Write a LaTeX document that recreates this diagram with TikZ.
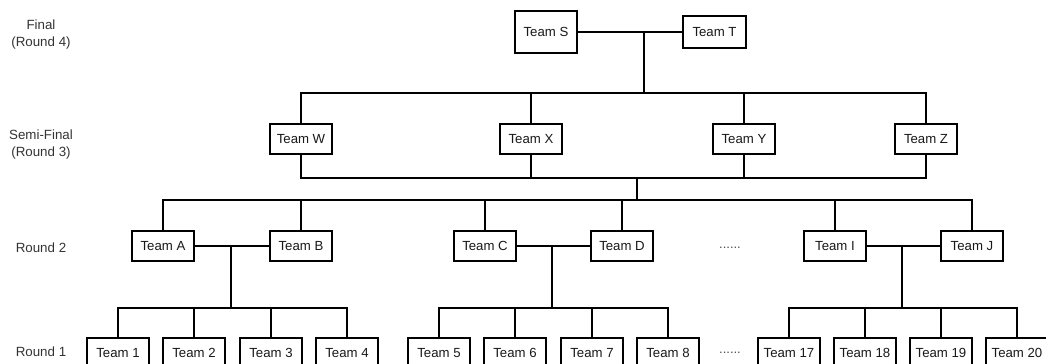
\documentclass[tikz,border=0pt]{standalone}
\usepackage{fontspec}
\setmainfont{Liberation Sans}
\begin{document}
\begin{tikzpicture}
        [x=0.75pt, y=-0.75pt,
         team_style/.style={rectangle,draw=black,line width=1.4pt,fill=white,
           minimum width=46.5pt,minimum height=22.5pt,inner sep=0pt,
           font=\fontsize{9.9pt}{12pt}\selectfont,text=black!90},
         round_style/.style={align=center,font=\fontsize{10pt}{12.75pt}\selectfont,text=black!80},
         dots_style/.style={font=\fontsize{9.75pt}{12pt}\selectfont,text=black!70},
         edge_style/.style={draw=black,line width=1.4pt}]
            \useasboundingbox (0,0) rectangle (1046,364);
            % round labels
            \node[round_style] (r4) at (41,35)  {Final\\(Round 4)};
            \node[round_style] (r3) at (41,145) {Semi-Final\\(Round 3)};
            \node[round_style] (r2) at (41,248) {Round 2};
            \node[round_style] (r1) at (41,352) {Round 1};
            % final
            \node[team_style,minimum height=31.5pt] (tS) at (546,32) {Team S};
            \node[team_style,minimum width=47.25pt,minimum height=24pt] (tT) at (714.5,32) {Team T};
            % semi-final
            \node[team_style] (tW) at (301,139) {Team W};
            \node[team_style] (tX) at (531,139) {Team X};
            \node[team_style] (tY) at (744,139) {Team Y};
            \node[team_style] (tZ) at (926,139) {Team Z};
            % round 2
            \node[team_style] (tA) at (163,246) {Team A};
            \node[team_style] (tB) at (301,246) {Team B};
            \node[team_style] (tC) at (485,246) {Team C};
            \node[team_style] (tD) at (622,246) {Team D};
            \node[dots_style] (d2) at (730,248) {......};
            \node[team_style] (tI) at (835,246) {Team I};
            \node[team_style] (tJ) at (972,246) {Team J};
            % round 1
            \node[team_style] (t1) at (118,353)   {Team 1};
            \node[team_style] (t2) at (194,353)   {Team 2};
            \node[team_style] (t3) at (271,353)   {Team 3};
            \node[team_style] (t4) at (347,353)   {Team 4};
            \node[team_style] (t5) at (439,353)   {Team 5};
            \node[team_style] (t6) at (515,353)   {Team 6};
            \node[team_style] (t7) at (592,353)   {Team 7};
            \node[team_style] (t8) at (668,353)   {Team 8};
            \node[dots_style] (d1) at (730,353)   {......};
            \node[team_style] (t17) at (789,353)  {Team 17};
            \node[team_style] (t18) at (865,353)  {Team 18};
            \node[team_style] (t19) at (941,353)  {Team 19};
            \node[team_style] (t20) at (1017,353) {Team 20};
            % junctions
            \coordinate (jST) at (644,32);
            \coordinate (jST_b) at (644,93);
            \coordinate (jSemi) at (637,178);
            \coordinate (jSemi_b) at (637,200);
            \coordinate (jAB) at (231,246);
            \coordinate (jAB_b) at (231,308);
            \coordinate (jCD) at (552,246);
            \coordinate (jCD_b) at (552,308);
            \coordinate (jIJ) at (902,246);
            \coordinate (jIJ_b) at (902,308);
            % final to semi-final
            \draw[edge_style] (tS) -- (tT);
            \draw[edge_style] (jST) -- (jST_b);
            \draw[edge_style] (tW.north) -- (tW.north |- jST_b) -- (tZ.north |- jST_b) -- (tZ.north);
            \draw[edge_style] (tX.north) -- (tX.north |- jST_b);
            \draw[edge_style] (tY.north) -- (tY.north |- jST_b);
            % semi-final to round 2
            \draw[edge_style] (tW.south) -- (tW.south |- jSemi) -- (tZ.south |- jSemi) -- (tZ.south);
            \draw[edge_style] (tX.south) -- (tX.south |- jSemi);
            \draw[edge_style] (tY.south) -- (tY.south |- jSemi);
            \draw[edge_style] (jSemi) -- (jSemi_b);
            \draw[edge_style] (tA.north) -- (tA.north |- jSemi_b) -- (tJ.north |- jSemi_b) -- (tJ.north);
            \draw[edge_style] (tB.north) -- (tB.north |- jSemi_b);
            \draw[edge_style] (tC.north) -- (tC.north |- jSemi_b);
            \draw[edge_style] (tD.north) -- (tD.north |- jSemi_b);
            \draw[edge_style] (tI.north) -- (tI.north |- jSemi_b);
            % round 2 to round 1
            \draw[edge_style] (tA) -- (tB);
            \draw[edge_style] (jAB) -- (jAB_b);
            \draw[edge_style] (t1.north) -- (t1.north |- jAB_b) -- (t4.north |- jAB_b) -- (t4.north);
            \draw[edge_style] (t2.north) -- (t2.north |- jAB_b);
            \draw[edge_style] (t3.north) -- (t3.north |- jAB_b);
            \draw[edge_style] (tC) -- (tD);
            \draw[edge_style] (jCD) -- (jCD_b);
            \draw[edge_style] (t5.north) -- (t5.north |- jCD_b) -- (t8.north |- jCD_b) -- (t8.north);
            \draw[edge_style] (t6.north) -- (t6.north |- jCD_b);
            \draw[edge_style] (t7.north) -- (t7.north |- jCD_b);
            \draw[edge_style] (tI) -- (tJ);
            \draw[edge_style] (jIJ) -- (jIJ_b);
            \draw[edge_style] (t17.north) -- (t17.north |- jIJ_b) -- (t20.north |- jIJ_b) -- (t20.north);
            \draw[edge_style] (t18.north) -- (t18.north |- jIJ_b);
            \draw[edge_style] (t19.north) -- (t19.north |- jIJ_b);
        \end{tikzpicture}
\end{document}
